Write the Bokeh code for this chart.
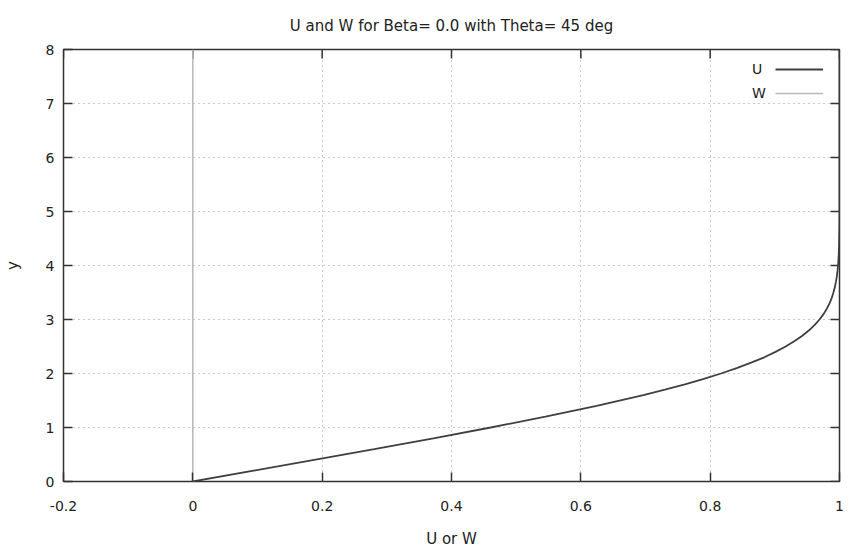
import math
from bokeh.plotting import figure
from bokeh.models import (FixedTicker, CustomJSTickFormatter, Legend, Title,
                          LegendItem, Range1d, ColumnDataSource)
from bokeh.embed import file_html
from bokeh.resources import INLINE

# ---- data ----
y_vals = [0.0, 0.2, 0.4, 0.6, 0.8, 1.0, 1.2, 1.4, 1.6, 1.7, 1.8, 1.9, 2.0, 2.1,
          2.2, 2.3, 2.4, 2.5, 2.6, 2.7, 2.8, 2.9, 3.0, 3.1, 3.2, 3.3, 3.4, 3.5,
          3.6, 3.7, 3.8, 3.9, 4.0, 4.2, 4.4, 4.6, 4.8, 5.0, 6.0, 7.0, 8.0]
u_vals = [0.0, 0.0939, 0.1876, 0.2806, 0.3720, 0.4606, 0.5453, 0.6244, 0.6967,
          0.7300, 0.7610, 0.7902, 0.8167, 0.8410, 0.8633, 0.8837, 0.9011, 0.9167,
          0.9306, 0.9425, 0.9529, 0.9617, 0.9691, 0.9753, 0.9804, 0.9846, 0.9880,
          0.9906, 0.9929, 0.9945, 0.9959, 0.9969, 0.9978, 0.9988, 0.9994, 0.9997,
          0.9999, 1.0, 1.0, 1.0, 1.0]
w_vals = [0.0] * len(y_vals)

x_ticks = [-0.2, 0.0, 0.2, 0.4, 0.6, 0.8, 1.0]
y_ticks = [0, 1, 2, 3, 4, 5, 6, 7, 8]
title_text = "U and W for Beta= 0.0 with Theta= 45 deg"
x_label = "U or W"
y_label = "y"

FONT = "DejaVu Sans"
FS = "14px"
FS_T = "15px"
TXT = "#222222"
FRAME = "#333333"

src = ColumnDataSource(dict(y=y_vals, u=u_vals, w=w_vals))

p = figure(width=849, height=557, output_backend="svg", toolbar_location=None,
           x_range=Range1d(x_ticks[0], x_ticks[-1]),
           y_range=Range1d(y_ticks[0], y_ticks[-1]),
           min_border_left=62, min_border_right=10, min_border_top=49,
           min_border_bottom=76)

p.add_layout(Title(text=title_text, align="center", vertical_align="top",
                   standoff=26, text_font=FONT, text_font_size=FS_T,
                   text_font_style="normal", text_color=TXT), "above")

p.outline_line_color = FRAME
p.outline_line_width = 1.5
p.background_fill_color = "white"
p.border_fill_color = "white"

fmt = CustomJSTickFormatter(code="var s = tick.toFixed(1); return s.replace(/\\.0$/, '');")

xa = p.xaxis[0]
ya = p.yaxis[0]
xa.ticker = FixedTicker(ticks=x_ticks)
xa.formatter = fmt
ya.ticker = FixedTicker(ticks=y_ticks)

for ax in (xa, ya):
    ax.axis_line_color = None
    ax.major_tick_in = 9
    ax.major_tick_out = 0
    ax.major_tick_line_color = FRAME
    ax.major_tick_line_width = 1.5
    ax.minor_tick_line_color = None
    ax.major_label_text_font = FONT
    ax.major_label_text_font_size = FS
    ax.major_label_text_color = TXT
    ax.axis_label_text_font = FONT
    ax.axis_label_text_font_size = FS_T
    ax.axis_label_text_font_style = "normal"
    ax.axis_label_text_color = TXT

xa.axis_label = x_label
ya.axis_label = y_label
xa.major_label_standoff = 19
xa.axis_label_standoff = 16
ya.major_label_standoff = 9
ya.axis_label_standoff = 21

p.xgrid.ticker = FixedTicker(ticks=x_ticks)
p.ygrid.ticker = FixedTicker(ticks=y_ticks)
for g in (p.xgrid[0], p.ygrid[0]):
    g.grid_line_color = "#999999"
    g.grid_line_dash = "1 4"
    g.grid_line_width = 1

# mirrored inward ticks on top and right edges (gnuplot style)
p.ray(x=x_ticks, y=[y_ticks[-1]] * len(x_ticks), length=9, length_units="screen",
      angle=-math.pi / 2, line_color=FRAME, line_width=1.5)
p.ray(x=[x_ticks[-1]] * len(y_ticks), y=y_ticks, length=9, length_units="screen",
      angle=math.pi, line_color=FRAME, line_width=1.5)

w_r = p.line("w", "y", source=src, line_color="#b8b8b8", line_width=1.5)
u_r = p.line("u", "y", source=src, line_color="#404040", line_width=1.8)

# legend: labels to the left of the line samples, gnuplot style
leg_common = dict(glyph_height=24, label_height=24, spacing=0, padding=0,
                  margin=0, border_line_color=None, background_fill_alpha=0,
                  label_text_font=FONT, label_text_font_size=FS,
                  label_text_color=TXT, label_standoff=0)
leg_text = Legend(items=[LegendItem(label="U", renderers=[u_r]),
                         LegendItem(label="W", renderers=[w_r])],
                  location=(689, 376), glyph_width=0, **leg_common)
leg_lines = Legend(items=[LegendItem(label=" ", renderers=[u_r]),
                          LegendItem(label=" ", renderers=[w_r])],
                   location=(712, 376), glyph_width=48, **leg_common)
p.add_layout(leg_text, "center")
p.add_layout(leg_lines, "center")

open("out.html", "w").write(file_html(p, INLINE))
